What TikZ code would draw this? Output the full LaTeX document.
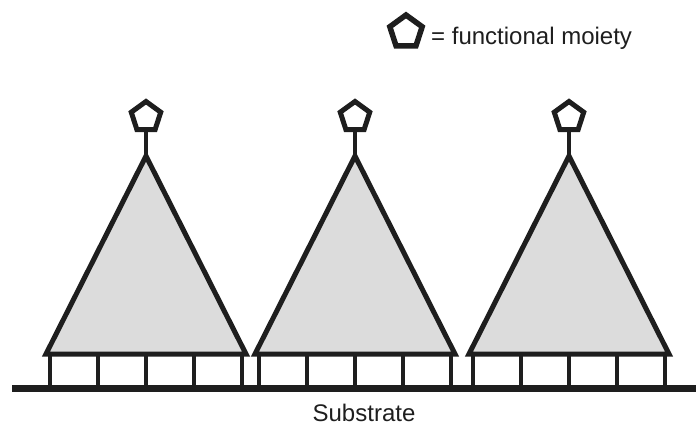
\documentclass[tikz,border=0pt]{standalone}
\usepackage{fontspec}
\setmainfont{Liberation Sans}
\usetikzlibrary{shapes.geometric}
\definecolor{ink}{HTML}{1E1E1E}
\definecolor{conefill}{HTML}{DCDCDC}
\begin{document}
\begin{tikzpicture}[x=1pt,y=-1pt,
  cone/.style={draw=ink,fill=conefill,line width=5pt,line join=miter},
  post/.style={draw=ink,line width=4.5pt},
  moiety/.style={regular polygon,regular polygon sides=5,draw=ink,fill=white,line width=5pt,minimum size=31pt,inner sep=0pt},
  stem/.style={draw=ink,line width=4.5pt},
  lbl/.style={font=\fontsize{24}{28}\selectfont,text=ink,inner sep=0pt}]
\useasboundingbox (0,0) rectangle (696,425);
% substrate
\fill[ink] (12,385) rectangle (696,392);
\node[lbl,anchor=base] (sub) at (364,421) {Substrate};
% legend
\node[moiety,minimum size=34pt,line width=5.5pt] (leg) at (406,32) {};
\node[lbl,anchor=base west] (legtxt) at (431,45) {= functional moiety};
% cones
\foreach \i/\cx in {1/146,2/355,3/569}{
  \coordinate (apex\i) at (\cx,156);
  \coordinate (bl\i) at (\cx-100,354);
  \coordinate (br\i) at (\cx+100,354);
  \path[cone] (bl\i) -- (apex\i) -- (br\i) -- cycle;
  \foreach \k/\dx in {a/-96,b/-48,c/0,d/48,e/96}{
    \coordinate (pt\i\k) at (\cx+\dx,354);
    \coordinate (pb\i\k) at (\cx+\dx,385);
    \draw[post] (pt\i\k) -- (pb\i\k);
  }
  \node[moiety] (m\i) at (\cx,117) {};
  \draw[stem] (m\i.south) -- (apex\i);
}
\end{tikzpicture}
\end{document}
